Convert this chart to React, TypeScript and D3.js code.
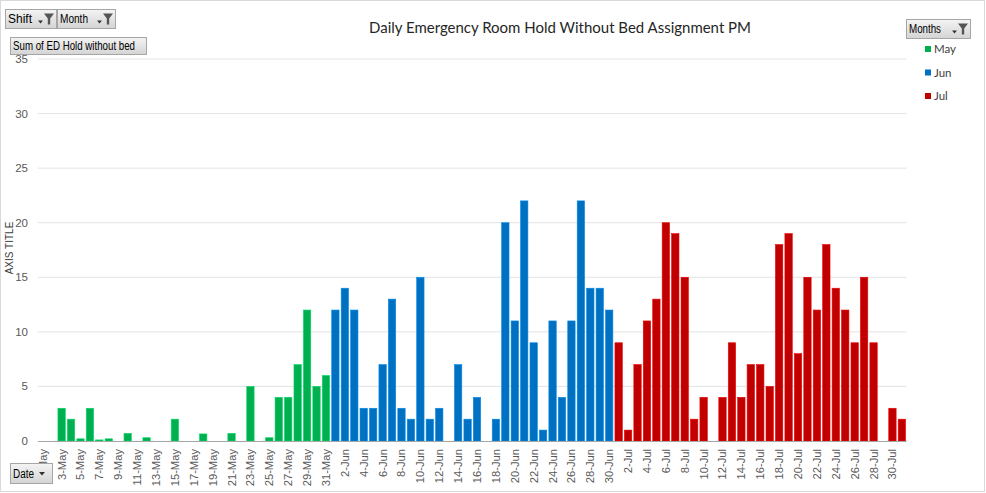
import { useEffect, useRef } from "react";
import * as d3 from "d3";

const WIDTH = 986;
const HEIGHT = 493;
const PLOT = { left: 38, right: 906.6, top: 59, bottom: 441 };

const months = ["May", "Jun", "Jul"];
const monthColors = ["#00B050", "#0070C0", "#C00000"];
const mayValues = [0, 0, 3, 2, 0.2, 3, 0.1, 0.2, 0, 0.7, 0, 0.3, 0, 0, 2, 0, 0, 0.65, 0, 0, 0.7, 0, 5, 0, 0.3, 4, 4, 7, 12, 5, 6];
const junValues = [12, 14, 12, 3, 3, 7, 13, 3, 2, 15, 2, 3, 0, 7, 2, 4, 0, 2, 20, 11, 22, 9, 1, 11, 4, 11, 22, 14, 14, 12];
const julValues = [9, 1, 7, 11, 13, 20, 19, 15, 2, 4, 0, 4, 9, 4, 7, 7, 5, 18, 19, 8, 15, 12, 18, 14, 12, 9, 15, 9, 0, 3, 2];
const yTicks = [0, 5, 10, 15, 20, 25, 30, 35];

const title = "Daily Emergency Room Hold Without Bed Assignment PM";
const axisTitle = "AXIS TITLE";

interface Row {
  label: string;
  value: number;
  month: number;
}

const rows: Row[] = [mayValues, junValues, julValues].flatMap((vals, m) =>
  vals.map((v, d) => ({ label: `${d + 1}-${months[m]}`, value: v, month: m }))
);

const FONT = "'Liberation Sans', Arial, sans-serif";
const TITLE_FONT = "Lato, 'Open Sans', sans-serif";

// Excel pivot field button
function FieldButton(props: {
  x: number;
  y: number;
  w: number;
  h: number;
  label: string;
  textW: number;
  filter?: boolean;
  arrow?: boolean;
}) {
  const { x, y, w, h, label, textW, filter, arrow } = props;
  return (
    <g transform={`translate(${x},${y})`}>
      <rect x={0.5} y={0.5} width={w} height={h} fill="url(#btnGrad)" stroke="#a6a6a6" />
      <text
        x={3}
        y={h / 2 + 4.5}
        fontFamily={FONT}
        fontSize={12}
        fill="#000"
        textLength={textW}
        lengthAdjust="spacingAndGlyphs"
      >
        {label}
      </text>
      {arrow && (
        <path
          d={filter ? `M${w - 18},${h / 2 + 2} l5,0 l-2.5,3 z` : `M${w - 13},${h / 2 - 1} l6,0 l-3,3.5 z`}
          fill="#333"
        />
      )}
      {filter && (
        <path
          d={`M${w - 12},${h / 2 - 5} l10,0 l-3.8,5 l0,6 l-2.4,0 l0,-6 z`}
          fill="#555"
        />
      )}
    </g>
  );
}

export default function App() {
  const gRef = useRef<SVGGElement>(null);

  useEffect(() => {
    if (!gRef.current) return;
    const g = d3.select(gRef.current);
    g.selectAll("*").remove();

    const x = d3
      .scaleBand<number>()
      .domain(rows.map((_, i) => i))
      .range([PLOT.left, PLOT.right])
      .paddingInner(0.22)
      .paddingOuter(0.11);

    const y = d3.scaleLinear().domain([0, 35]).range([PLOT.bottom, PLOT.top]);

    // gridlines
    g.selectAll("line.grid")
      .data(yTicks.filter((t) => t > 0))
      .join("line")
      .attr("class", "grid")
      .attr("x1", PLOT.left)
      .attr("x2", PLOT.right)
      .attr("y1", (d) => y(d))
      .attr("y2", (d) => y(d))
      .attr("stroke", "#e3e3e3")
      .attr("stroke-width", 1);

    // y tick labels
    g.selectAll("text.ytick")
      .data(yTicks)
      .join("text")
      .attr("class", "ytick")
      .attr("x", 28)
      .attr("y", (d) => y(d) + 4)
      .attr("text-anchor", "end")
      .attr("font-family", FONT)
      .attr("font-size", 11.5)
      .attr("fill", "#595959")
      .text((d) => d);

    // bars
    g.selectAll("rect.bar")
      .data(rows)
      .join("rect")
      .attr("class", "bar")
      .attr("x", (_, i) => x(i) ?? 0)
      .attr("width", x.bandwidth())
      .attr("y", (d) => y(d.value))
      .attr("height", (d) => PLOT.bottom - y(d.value))
      .attr("fill", (d) => monthColors[d.month])
      .attr("stroke", (d) => d3.color(monthColors[d.month])!.brighter(0.6).formatHex())
      .attr("stroke-width", 0.6);

    // x axis line
    g.append("line")
      .attr("x1", PLOT.left)
      .attr("x2", PLOT.right)
      .attr("y1", PLOT.bottom + 0.5)
      .attr("y2", PLOT.bottom + 0.5)
      .attr("stroke", "#a6a6a6")
      .attr("stroke-width", 1.2);

    // x tick labels (every other date)
    g.selectAll("text.xtick")
      .data(rows.filter((_, i) => i % 2 === 0))
      .join("text")
      .attr("class", "xtick")
      .attr("transform", (_, k) => {
        const i = k * 2;
        const cx = (x(i) ?? 0) + x.bandwidth() / 2 + 4;
        return `translate(${cx},${PLOT.bottom + 8}) rotate(-90)`;
      })
      .attr("text-anchor", "end")
      .attr("font-family", FONT)
      .attr("font-size", 11.2)
      .attr("fill", "#595959")
      .text((d) => d.label);
  }, []);

  return (
    <svg
      width={WIDTH}
      height={HEIGHT}
      viewBox={`0 0 ${WIDTH} ${HEIGHT}`}
      style={{ position: "absolute", left: 0, top: 0, background: "#fff" }}
    >
      <defs>
        <linearGradient id="btnGrad" x1="0" y1="0" x2="0" y2="1">
          <stop offset="0" stopColor="#f4f4f4" />
          <stop offset="1" stopColor="#d4d4d4" />
        </linearGradient>
      </defs>
      <rect x={0.5} y={0.5} width={WIDTH - 2} height={HEIGHT - 2} fill="#fff" stroke="#d9d9d9" />

      <text
        x={560}
        y={33}
        textAnchor="middle"
        fontFamily={TITLE_FONT}
        fontSize={16}
        fill="#262626"
        textLength={382}
        lengthAdjust="spacingAndGlyphs"
      >
        {title}
      </text>

      <text
        transform="translate(13,248) rotate(-90)"
        textAnchor="middle"
        fontFamily={FONT}
        fontSize={10}
        fill="#404040"
      >
        {axisTitle}
      </text>

      <g ref={gRef} />

      {/* legend */}
      {months.map((m, i) => (
        <g key={m} transform={`translate(925,${49 + i * 23.5})`}>
          <rect x={0} y={-3} width={6} height={6} fill={monthColors[i]} />
          <text x={9} y={4} fontFamily={TITLE_FONT} fontSize={11.5} fill="#404040">
            {m}
          </text>
        </g>
      ))}

      <FieldButton x={5} y={9} w={51} h={19} label="Shift" textW={24} filter arrow />
      <FieldButton x={57} y={9} w={58} h={19} label="Month" textW={28} filter arrow />
      <FieldButton x={10} y={37} w={136} h={17} label="Sum of ED Hold without bed" textW={122} />
      <FieldButton x={906} y={19} w={64} h={19} label="Months" textW={32} filter arrow />
      <FieldButton x={10} y={463} w={42} h={20} label="Date" textW={21} arrow />
    </svg>
  );
}
